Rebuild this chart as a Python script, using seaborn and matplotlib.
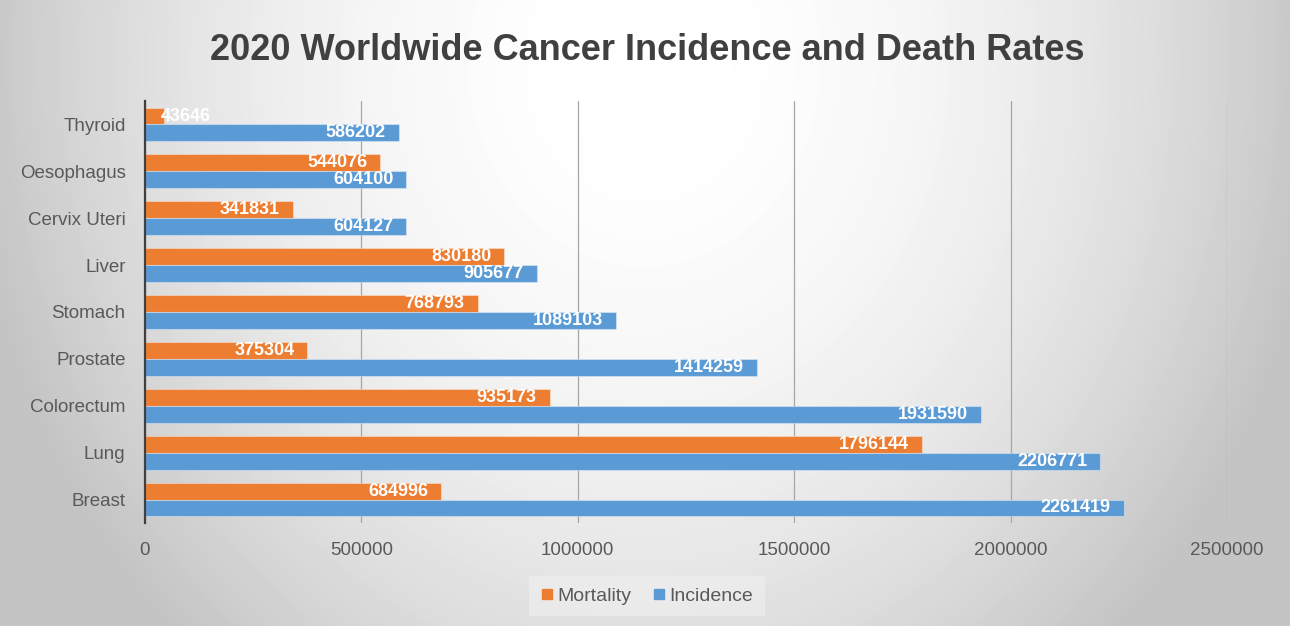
import numpy as np
import pandas as pd
import matplotlib
matplotlib.use("Agg")
import matplotlib.pyplot as plt
import seaborn as sns
from matplotlib.lines import Line2D

# Data: 2020 worldwide new cases and deaths by cancer site
cancers = ["Thyroid", "Oesophagus", "Cervix Uteri", "Liver", "Stomach",
           "Prostate", "Colorectum", "Lung", "Breast"]
mortality = [43646, 544076, 341831, 830180, 768793, 375304, 935173, 1796144, 684996]
incidence = [586202, 604100, 604127, 905677, 1089103, 1414259, 1931590, 2206771, 2261419]
series = ["Mortality", "Incidence"]
x_ticks = [0, 500000, 1000000, 1500000, 2000000, 2500000]
title = "2020 Worldwide Cancer Incidence and Death Rates"

colors = {"Mortality": "#ED7D31", "Incidence": "#5B9BD5"}

df = pd.DataFrame({
    "Cancer": cancers * 2,
    "Measure": ["Mortality"] * len(cancers) + ["Incidence"] * len(cancers),
    "Cases": mortality + incidence,
})

sns.set_theme(style="white")
plt.rcParams["font.family"] = ["Liberation Sans", "DejaVu Sans"]

W, H = 1290, 626
fig = plt.figure(figsize=(W / 100, H / 100), dpi=100)

# Soft radial backdrop, brightest near the top centre
bg = fig.add_axes([0, 0, 1, 1], zorder=0)
yy, xx = np.mgrid[0:1:H * 1j, 0:1:W * 1j]
r = np.sqrt(((xx - 0.5) / 0.5) ** 2 + ((yy - 0.1) / 1.2) ** 2)
shade = 1 - 0.21 * np.minimum(r, 1.05) ** 2
bg.imshow(shade, cmap="gray", vmin=0, vmax=1, aspect="auto", interpolation="bilinear")
bg.axis("off")

ax = fig.add_axes([145 / W, 1 - 523 / H, (1227 - 145) / W, (523 - 101) / H], zorder=1)
ax.patch.set_alpha(0)

sns.barplot(data=df, y="Cancer", x="Cases", hue="Measure", hue_order=series,
            order=cancers, palette=colors, width=0.72, orient="h",
            saturation=1, errorbar=None, legend=False, ax=ax,
            edgecolor=(1, 1, 1, 0.35), linewidth=0.8)

# Value labels at the inner end of each bar
for cont in ax.containers:
    for bar, v in zip(cont.patches, cont.datavalues):
        yc = bar.get_y() + bar.get_height() / 2
        if v < 150000:
            ax.annotate(f"{int(v)}", xy=(0, yc), xytext=(16, 0),
                        textcoords="offset pixels", ha="left", va="center",
                        color="white", fontsize=13, fontweight="bold")
        else:
            ax.annotate(f"{int(v)}", xy=(v, yc), xytext=(-13, 0),
                        textcoords="offset pixels", ha="right", va="center",
                        color="white", fontsize=13, fontweight="bold")

ax.set_xlim(0, 2500000)
ax.set_xticks(x_ticks)
ax.set_xticklabels([str(t) for t in x_ticks])
ax.set_xlabel("")
ax.set_ylabel("")

for side in ["top", "right", "bottom"]:
    ax.spines[side].set_visible(False)
ax.spines["left"].set_color("#404040")
ax.spines["left"].set_linewidth(1.6)

ax.set_axisbelow(True)
ax.xaxis.grid(True, color="#a6a6a6", linewidth=0.9)
ax.yaxis.grid(False)
ax.tick_params(axis="both", length=0, labelsize=13.5, colors="#595959")
ax.tick_params(axis="x", pad=13.5)
ax.tick_params(axis="y", pad=14)

fig.text(0.5015, 1 - 50 / H, title, ha="center", va="center",
         fontsize=26, fontweight="bold", color="#404040")

handles = [Line2D([], [], marker="s", ls="", color=colors[s], markersize=6.5)
           for s in series]
leg = fig.legend(handles, series, loc="center",
                 bbox_to_anchor=(647 / W, 1 - 596 / H), ncol=2, frameon=True,
                 facecolor="#f4f4f4", edgecolor="none", framealpha=0.45,
                 fontsize=14, labelcolor="#595959", handlelength=0.6,
                 handletextpad=0.25, columnspacing=1.1, borderpad=0.6,
                 fancybox=False)

fig.savefig("out.png", dpi=100)
